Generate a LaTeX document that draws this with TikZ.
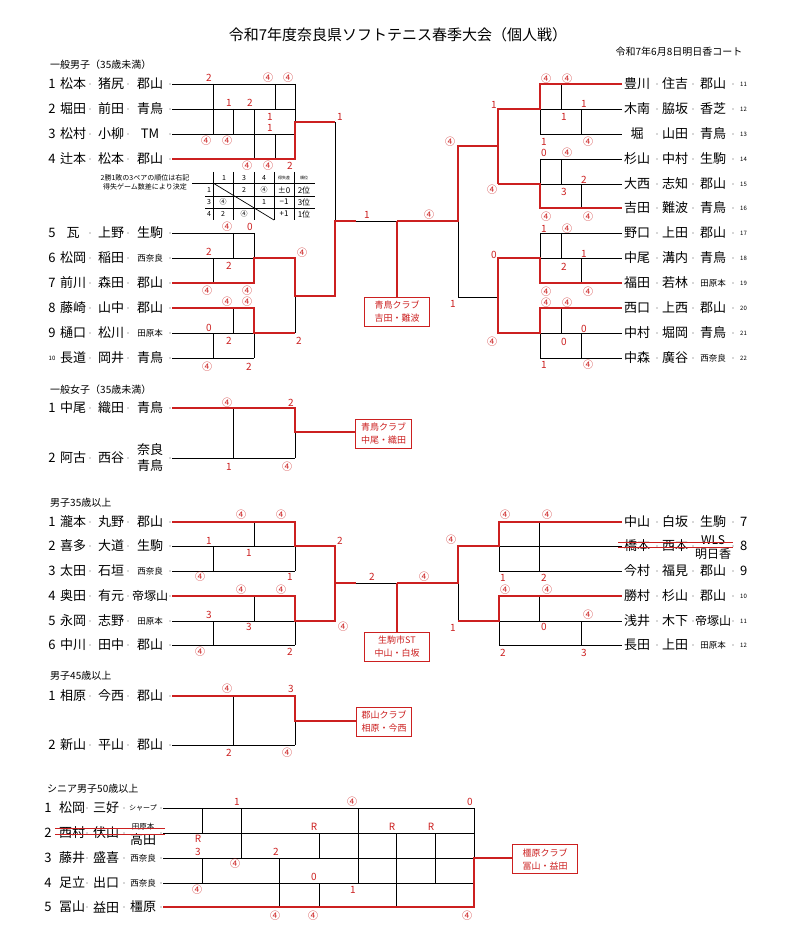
\documentclass[tikz,border=0pt]{standalone}
\usepackage{fontspec}
\setmainfont{Noto Sans CJK JP}
\definecolor{rd}{RGB}{204,32,32}
\definecolor{dotg}{RGB}{175,175,175}
\newcommand\fs[1]{\fontsize{#1}{#1}\selectfont}
\tikzset{
 bl/.style={line width=0.9pt, black},
 rl/.style={line width=2pt, rd},
 nm/.style={font=\fs{13}, inner sep=0pt},
 mid/.style={font=\fs{12}, inner sep=0pt},
 sm/.style={font=\fs{8.5}, inner sep=0pt},
 tinyn/.style={font=\fs{6}, inner sep=0pt},
 score/.style={font=\fs{10}, text=rd, inner sep=0pt},
 hdr/.style={font=\fs{10}, inner sep=0pt, anchor=west},
 tab/.style={font=\fs{7}, inner sep=0pt},
 note/.style={font=\fs{7}, inner sep=0pt},
 wbox/.style={draw=rd, line width=1pt, text=rd, font=\fontsize{9}{13}\selectfont, align=center, minimum width=65pt, minimum height=29pt, inner sep=1pt},
 strike/.style={line width=1pt, rd}
}
\newcommand\lrow[6]{%
 \node[nm] (L#1n) at (52,#1) {#2};
 \node[nm] (L#1a) at (73,#1) {#3};
 \node[nm] (L#1b) at (111,#1) {#4};
 \node[#6] (L#1c) at (150,#1) {#5};
 \foreach \dx in {90,128,170} \fill[dotg] (\dx,#1) circle (0.9);
}
\newcommand\rrow[6]{%
 \node[nm] (R#1a) at (637,#1) {#2};
 \node[nm] (R#1b) at (675,#1) {#3};
 \node[#5] (R#1c) at (713,#1) {#4};
 \node[tinyn,anchor=west] (R#1n) at (740,#1) {#6};
 \foreach \dx in {657,693,733} \fill[dotg] (\dx,#1) circle (0.9);
}
\newcommand\srow[6]{%
 \node[nm] (S#1n) at (48,#1) {#2};
 \node[nm] (S#1a) at (72,#1) {#3};
 \node[nm] (S#1b) at (106,#1) {#4};
 \node[#6] (S#1c) at (143,#1) {#5};
 \foreach \dx in {87,124,161} \fill[dotg] (\dx,#1) circle (0.9);
}
\newcommand\scr[3]{\node[score] at (#1,#2) {#3};}
\begin{document}
\begin{tikzpicture}[x=1pt,y=-1pt]
\useasboundingbox[fill=white] (0,0) rectangle (800,949);
% title
\node[font=\fs{15},inner sep=0pt] (title) at (398,35) {令和7年度奈良県ソフトテニス春季大会（個人戦）};
\node[font=\fs{10},inner sep=0pt] (date) at (679,52) {令和7年6月8日明日香コート};

% ================= Section 1 =================
\node[hdr] (h1) at (50,65) {一般男子（35歳未満）};
\lrow{84}{1}{松本}{猪尻}{郡山}{nm}
\lrow{109}{2}{堀田}{前田}{青鳥}{nm}
\lrow{134}{3}{松村}{小柳}{TM}{nm}
\lrow{159}{4}{辻本}{松本}{郡山}{nm}
\lrow{233}{5}{瓦}{上野}{生駒}{nm}
\lrow{258}{6}{松岡}{稲田}{西奈良}{sm}
\lrow{283}{7}{前川}{森田}{郡山}{nm}
\lrow{308}{8}{藤崎}{山中}{郡山}{nm}
\lrow{333}{9}{樋口}{松川}{田原本}{sm}
\lrow{358}{{\fs{6}10}}{長道}{岡井}{青鳥}{nm}

\rrow{84}{豊川}{住吉}{郡山}{nm}{11}
\rrow{109}{木南}{脇坂}{香芝}{nm}{12}
\rrow{134}{堀}{山田}{青鳥}{nm}{13}
\rrow{159}{杉山}{中村}{生駒}{nm}{14}
\rrow{184}{大西}{志知}{郡山}{nm}{15}
\rrow{208}{吉田}{難波}{青鳥}{nm}{16}
\rrow{233}{野口}{上田}{郡山}{nm}{17}
\rrow{258}{中尾}{溝内}{青鳥}{nm}{18}
\rrow{283}{福田}{若林}{田原本}{sm}{19}
\rrow{308}{西口}{上西}{郡山}{nm}{20}
\rrow{333}{中村}{堀岡}{青鳥}{nm}{21}
\rrow{358}{中森}{廣谷}{西奈良}{sm}{22}

% left top block
\draw[bl] (172,84)--(295,84) (172,109)--(295,109) (172,134)--(295,134);
\draw[bl] (213,84)--(213,134) (233,109)--(233,134) (254,109)--(254,159)
  (275,84)--(275,109) (275,134)--(275,159) (295,84)--(295,122) (335,122)--(335,221);
\draw[rl] (172,159)--(295,159)--(295,122)--(335,122);
% table
\draw[bl,line width=0.7pt] (192,183)--(315,183) (205,196)--(315,196) (205,208)--(315,208);
\foreach \tx in {213,233,254,274,294} \draw[bl,line width=0.7pt] (\tx,172)--(\tx,220);
\draw[bl,line width=0.7pt] (213,183)--(274,220);
\node[note] (n1) at (145,178) {2勝1敗の3ペアの順位は右記};
\node[note] (n2) at (145,187) {得失ゲーム数差により決定};
\node[tab] at (224,178) {1};
\node[tab] at (244,178) {3};
\node[tab] at (264,178) {4};
\node[font=\fs{4},inner sep=0pt] at (284,178) {得失差};
\node[font=\fs{4},inner sep=0pt] at (304,178) {順位};
\node[tab] at (209,190) {1};
\node[tab] at (209,202) {3};
\node[tab] at (209,214) {4};
\node[tab] at (244,190) {2};
\node[tab] at (264,190) {④};
\node[tab,font=\fs{8}] at (284,190) {±0};
\node[tab,font=\fs{8}] at (304,190) {2位};
\node[tab] at (223,202) {④};
\node[tab] at (264,202) {1};
\node[tab,font=\fs{8}] at (284,202) {−1};
\node[tab,font=\fs{8}] at (304,202) {3位};
\node[tab] at (223,214) {2};
\node[tab] at (244,214) {④};
\node[tab,font=\fs{8}] at (284,214) {+1};
\node[tab,font=\fs{8}] at (304,214) {1位};
% left bottom block
\draw[bl] (172,233)--(254,233) (172,258)--(254,258) (233,233)--(233,258) (254,233)--(254,258) (213,258)--(213,283);
\draw[bl] (172,333)--(254,333) (172,358)--(254,358) (233,308)--(233,333) (213,333)--(213,358) (254,333)--(254,358) (295,296)--(295,333);
\draw[rl] (172,283)--(254,283)--(254,258)--(295,258)--(295,296)--(335,296)--(335,221)--(356,221);
\draw[rl] (172,308)--(254,308)--(254,333)--(295,333);
% final
\node[wbox,anchor=north] (w1) at (397,297) {青鳥クラブ\\吉田・難波};
\draw[bl] (356,221)--(397,221);
\draw[bl] (458,221)--(458,297)--(498,297);
% right blocks
\draw[bl] (540,109)--(622,109) (540,134)--(622,134) (540,109)--(540,134) (561,84)--(561,109) (581,109)--(581,134);
\draw[bl] (540,159)--(622,159) (540,184)--(622,184) (540,159)--(540,184) (561,159)--(561,184) (581,184)--(581,208);
\draw[bl] (540,233)--(622,233) (540,258)--(622,258) (540,233)--(540,258) (561,233)--(561,258) (581,258)--(581,283);
\draw[bl] (540,333)--(622,333) (540,358)--(622,358) (540,333)--(540,358) (561,308)--(561,333) (581,333)--(581,358);
\draw[rl] (622,84)--(540,84)--(540,109)--(498,109)--(498,184);
\draw[rl] (622,208)--(540,208)--(540,184)--(498,184);
\draw[rl] (498,146)--(458,146)--(458,221)--(397,221);
\draw[rl] (397,221)--(w1.north);
\draw[rl] (622,283)--(540,283)--(540,258)--(498,258)--(498,333)--(540,333)--(540,308)--(622,308);
% scores sec 1
\scr{209}{78}{2}\scr{268}{78}{④}\scr{288}{78}{④}\scr{229}{103}{1}\scr{250}{103}{2}
\scr{270}{117}{1}\scr{270}{128}{1}\scr{206}{141}{④}\scr{227}{141}{④}\scr{247}{166}{④}
\scr{268}{166}{④}\scr{290}{166}{2}\scr{340}{117}{1}
\scr{227}{227}{④}\scr{250}{227}{0}\scr{209}{252}{2}\scr{229}{266}{2}\scr{207}{291}{④}
\scr{247}{291}{④}\scr{227}{302}{④}\scr{247}{302}{④}\scr{209}{328}{0}\scr{229}{341}{2}
\scr{207}{367}{④}\scr{249}{367}{2}\scr{302}{253}{④}\scr{299}{341}{2}
\scr{367}{215}{1}\scr{429}{215}{④}\scr{453}{304}{1}
\scr{546}{79}{④}\scr{567}{79}{④}\scr{584}{104}{1}\scr{564}{117}{1}\scr{544}{142}{1}
\scr{588}{142}{④}\scr{544}{153}{0}\scr{567}{153}{④}\scr{584}{180}{2}\scr{564}{192}{3}
\scr{546}{217}{④}\scr{588}{217}{④}\scr{494}{105}{1}\scr{450}{142}{④}\scr{492}{190}{④}
\scr{544}{229}{1}\scr{567}{229}{④}\scr{584}{254}{1}\scr{564}{267}{2}\scr{546}{292}{④}
\scr{588}{292}{④}\scr{546}{303}{④}\scr{567}{303}{④}\scr{584}{329}{0}\scr{564}{342}{0}
\scr{544}{365}{1}\scr{588}{365}{④}\scr{494}{255}{0}\scr{492}{342}{④}

% ================= Section 2 =================
\node[hdr] (h2) at (50,390) {一般女子（35歳未満）};
\lrow{408}{1}{中尾}{織田}{青鳥}{nm}
\lrow{458}{2}{阿古}{西谷}{}{nm}
\node[nm] (c2a) at (150,450) {奈良};
\node[nm] (c2b) at (150,466) {青鳥};
\node[wbox,anchor=west,minimum width=56pt] (w2) at (355,434) {青鳥クラブ\\中尾・織田};
\draw[bl] (172,458)--(295,458) (233,408)--(233,458) (295,432)--(295,458);
\draw[rl] (172,408)--(295,408)--(295,432)--(w2.west |- 0,432);
\scr{227}{403}{④}\scr{291}{403}{2}\scr{229}{467}{1}\scr{287}{467}{④}

% ================= Section 3 =================
\node[hdr] (h3) at (50,503) {男子35歳以上};
\lrow{522}{1}{瀧本}{丸野}{郡山}{nm}
\lrow{546}{2}{喜多}{大道}{生駒}{nm}
\lrow{571}{3}{太田}{石垣}{西奈良}{sm}
\lrow{596}{4}{奥田}{有元}{帝塚山}{mid}
\lrow{621}{5}{永岡}{志野}{田原本}{sm}
\lrow{645}{6}{中川}{田中}{郡山}{nm}
\rrow{522}{中山}{白坂}{生駒}{nm}{{\fs{13}7}}
\rrow{546}{橋本}{西本}{}{nm}{{\fs{13}8}}
\node[mid] (c3a) at (713,540) {WLS};
\node[mid] (c3b) at (713,554) {明日香};
\rrow{571}{今村}{福見}{郡山}{nm}{{\fs{13}9}}
\rrow{596}{勝村}{杉山}{郡山}{nm}{10}
\rrow{621}{浅井}{木下}{帝塚山}{mid}{11}
\rrow{645}{長田}{上田}{田原本}{sm}{12}
\draw[strike] (618,542)--(733,542) (618,547)--(733,547);
\draw[bl] (172,546)--(295,546) (172,571)--(295,571) (254,522)--(254,546) (213,546)--(213,571) (295,546)--(295,571);
\draw[bl] (172,621)--(295,621) (172,645)--(295,645) (254,596)--(254,621) (213,621)--(213,645) (295,621)--(295,645);
\draw[bl] (356,583)--(397,583);
\node[wbox,anchor=north] (w3) at (397,632) {生駒市ST\\中山・白坂};
\draw[bl] (499,546)--(622,546) (499,571)--(622,571) (499,546)--(499,571) (539,522)--(539,571);
\draw[bl] (458,583)--(458,621);
\draw[bl] (499,621)--(622,621) (499,645)--(622,645) (499,621)--(499,645) (539,596)--(539,621) (581,621)--(581,645);
\draw[rl] (172,522)--(295,522)--(295,546)--(335,546)--(335,621)--(295,621)--(295,596)--(172,596);
\draw[rl] (335,583)--(356,583);
\draw[rl] (397,583)--(458,583)--(458,546)--(499,546)--(499,522)--(622,522);
\draw[rl] (397,583)--(w3.north);
\draw[rl] (458,621)--(499,621)--(499,596)--(622,596);
\scr{241}{515}{④}\scr{281}{515}{④}\scr{209}{541}{1}\scr{249}{553}{1}\scr{200}{577}{④}
\scr{290}{577}{1}\scr{241}{590}{④}\scr{281}{590}{④}\scr{209}{615}{3}\scr{249}{627}{3}
\scr{200}{652}{④}\scr{290}{652}{2}\scr{340}{541}{2}\scr{343}{627}{④}\scr{372}{577}{2}
\scr{424}{577}{④}\scr{453}{628}{1}\scr{451}{540}{④}\scr{505}{515}{④}\scr{547}{515}{④}
\scr{503}{578}{1}\scr{544}{578}{2}\scr{505}{590}{④}\scr{547}{590}{④}\scr{588}{615}{④}
\scr{544}{627}{0}\scr{503}{653}{2}\scr{584}{653}{3}

% ================= Section 4 =================
\node[hdr] (h4) at (50,676) {男子45歳以上};
\lrow{696}{1}{相原}{今西}{郡山}{nm}
\lrow{745}{2}{新山}{平山}{郡山}{nm}
\node[wbox,anchor=west,minimum width=55pt] (w4) at (356,722) {郡山クラブ\\相原・今西};
\draw[bl] (172,745)--(295,745) (233,696)--(233,745) (295,721)--(295,745);
\draw[rl] (172,696)--(295,696)--(295,721)--(w4.west |- 0,721);
\scr{227}{689}{④}\scr{291}{689}{3}\scr{229}{753}{2}\scr{287}{753}{④}

% ================= Section 5 =================
\node[hdr] (h5) at (47,789) {シニア男子50歳以上};
\srow{808}{1}{松岡}{三好}{{\fs{7}シャープ}}{sm}
\srow{833}{2}{西村}{伏山}{}{sm}
\node[sm,font=\fs{7.5}] (c5a) at (143,827) {田原本};
\node[nm] (c5b) at (143,840) {高田};
\srow{858}{3}{藤井}{盛喜}{西奈良}{sm}
\srow{883}{4}{足立}{出口}{西奈良}{sm}
\srow{907}{5}{冨山}{益田}{橿原}{nm}
\draw[strike] (55,828)--(165,828) (55,834)--(165,834);
\draw[bl] (163,808)--(474,808) (163,833)--(474,833) (163,858)--(474,858) (163,883)--(474,883);
\draw[bl] (202,808)--(202,833) (202,858)--(202,883) (241,808)--(241,858) (279,858)--(279,907)
  (319,833)--(319,858) (319,883)--(319,907) (358,808)--(358,883) (396,833)--(396,907)
  (435,833)--(435,883) (474,808)--(474,858);
\node[wbox,anchor=west] (w5) at (512,859) {橿原クラブ\\冨山・益田};
\draw[rl] (163,907)--(474,907)--(474,858)--(w5.west |- 0,858);
\scr{237}{802}{1}\scr{352}{802}{④}\scr{470}{802}{0}\scr{314}{827}{R}\scr{392}{827}{R}
\scr{431}{827}{R}\scr{198}{839}{R}\scr{198}{852}{3}\scr{276}{852}{2}\scr{235}{864}{④}
\scr{314}{877}{0}\scr{197}{890}{④}\scr{353}{890}{1}\scr{275}{916}{④}\scr{313}{916}{④}
\scr{467}{916}{④}
\end{tikzpicture}
\end{document}
